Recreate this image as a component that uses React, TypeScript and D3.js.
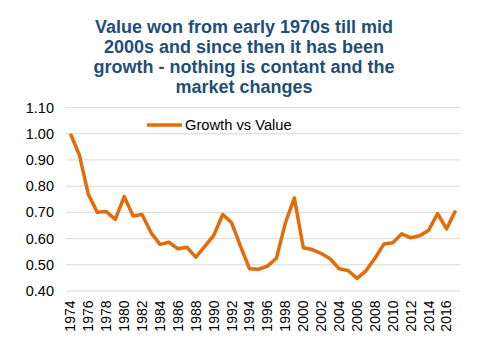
import React from "react";
import * as d3 from "d3";

const years: number[] = [
  1974, 1975, 1976, 1977, 1978, 1979, 1980, 1981, 1982, 1983, 1984, 1985, 1986, 1987, 1988,
  1989, 1990, 1991, 1992, 1993, 1994, 1995, 1996, 1997, 1998, 1999, 2000, 2001, 2002, 2003,
  2004, 2005, 2006, 2007, 2008, 2009, 2010, 2011, 2012, 2013, 2014, 2015, 2016, 2017,
];
const growthVsValue: number[] = [
  1.0, 0.918, 0.768, 0.7, 0.703, 0.673, 0.76, 0.686, 0.692, 0.622, 0.578, 0.586, 0.561, 0.567,
  0.529, 0.57, 0.612, 0.692, 0.66, 0.569, 0.485, 0.483, 0.495, 0.525, 0.66, 0.755, 0.565, 0.558,
  0.543, 0.523, 0.485, 0.478, 0.448, 0.477, 0.525, 0.579, 0.584, 0.618, 0.603, 0.611, 0.632,
  0.695, 0.637, 0.707,
];
const yTicks: number[] = [0.4, 0.5, 0.6, 0.7, 0.8, 0.9, 1.0, 1.1];
const titleLines: string[] = [
  "Value won from early 1970s till mid",
  "2000s and since then it has been",
  "growth - nothing is contant and the",
  "market changes",
];
const seriesName = "Growth vs Value";

export default function App() {
  const W = 486;
  const H = 353;
  const left = 66;
  const right = 460;
  const top = 107.5;
  const bottom = 291;
  const x = d3
    .scaleBand<number>()
    .domain(years)
    .range([left, right]);
  const y = d3.scaleLinear().domain([0.4, 1.1]).range([bottom, top]);
  const cx = (yr: number) => (x(yr) as number) + x.bandwidth() / 2;
  const line = d3
    .line<number>()
    .x((_, i) => cx(years[i]))
    .y((d) => y(d));
  const font = "'Liberation Sans', Arial, sans-serif";
  return (
    <svg
      width={W}
      height={H}
      style={{ position: "absolute", left: 0, top: 0, background: "#fff" }}
    >
      {titleLines.map((t, i) => (
        <text
          key={i}
          x={244}
          y={33 + i * 20}
          textAnchor="middle"
          fontFamily={font}
          fontWeight="bold"
          fontSize={18}
          fill="#1F4E79"
        >
          {t}
        </text>
      ))}
      {yTicks.map((t) => (
        <g key={t}>
          <line x1={left} x2={right} y1={y(t)} y2={y(t)} stroke="#D9D9D9" strokeWidth={1} />
          <text
            x={54}
            y={y(t)}
            dy="0.35em"
            textAnchor="end"
            fontFamily={font}
            fontSize={14.5}
            fill="#000"
          >
            {t.toFixed(2)}
          </text>
        </g>
      ))}
      {years
        .filter((_, i) => i % 2 === 0)
        .map((yr) => (
          <text
            key={yr}
            transform={`translate(${cx(yr)},${300.5}) rotate(-90)`}
            textAnchor="end"
            dy="0.35em"
            fontFamily={font}
            fontSize={14}
            fill="#000"
          >
            {yr}
          </text>
        ))}
      <path
        d={line(growthVsValue) || ""}
        fill="none"
        stroke="#E36C09"
        strokeWidth={3.5}
        strokeLinejoin="round"
      />
      <line x1={147} x2={182} y1={125} y2={125} stroke="#E36C09" strokeWidth={3.5} />
      <text x={185} y={125} dy="0.35em" fontFamily={font} fontSize={14.7} fill="#000">
        {seriesName}
      </text>
    </svg>
  );
}
